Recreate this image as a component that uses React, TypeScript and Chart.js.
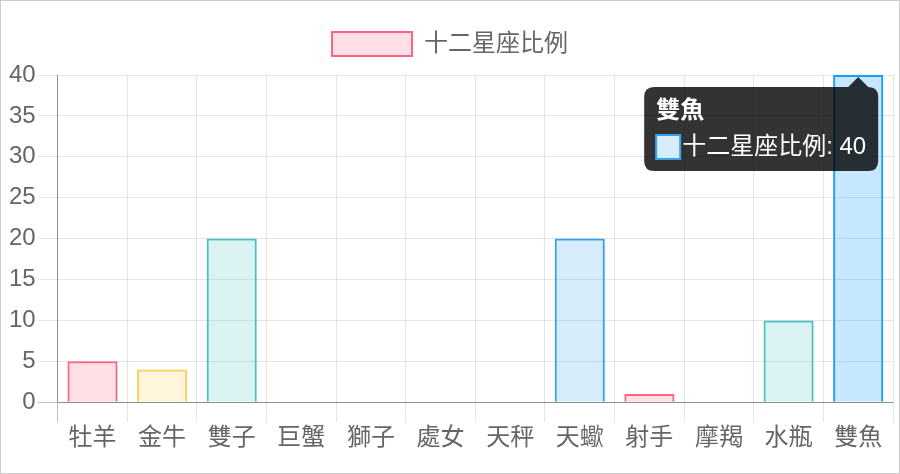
import React, { useEffect, useRef } from 'react';
import { Chart, ChartConfiguration, registerables } from 'chart.js';

Chart.register(...registerables);

// data
const signs = ['牡羊', '金牛', '雙子', '巨蟹', '獅子', '處女', '天秤', '天蠍', '射手', '摩羯', '水瓶', '雙魚'];
const ratios = [5, 4, 20, 0, 0, 0, 0, 20, 1, 0, 10, 40];
const datasetLabel = '十二星座比例';
const yTicks = [0, 5, 10, 15, 20, 25, 30, 35, 40];

// palette repeats every 4 bars
const fills = ['rgba(255, 99, 132, 0.2)', 'rgba(255, 206, 86, 0.2)', 'rgba(75, 192, 192, 0.2)', 'rgba(54, 162, 235, 0.2)'];
const borders = ['rgb(255, 99, 132)', 'rgb(255, 206, 86)', 'rgb(75, 192, 192)', 'rgb(54, 162, 235)'];
const hoverFills = ['rgba(255, 70, 110, 0.25)', 'rgba(255, 195, 50, 0.25)', 'rgba(50, 190, 190, 0.25)', 'rgba(30, 160, 255, 0.25)'];
const hoverBorders = ['rgb(255, 60, 100)', 'rgb(255, 190, 40)', 'rgb(40, 185, 185)', 'rgb(25, 155, 255)'];

const activeIndex = 11;

const FONT = "'Helvetica Neue', Helvetica, Arial, 'Noto Sans CJK TC', sans-serif";

// extra space under the legend
const legendGap = {
  id: 'legendGap',
  beforeInit(chart: any) {
    const legend = chart.legend;
    if (!legend) return;
    const fit = legend.fit;
    legend.fit = function () {
      fit.bind(legend)();
      this.height += 9;
    };
  }
};

const App: React.FC = () => {
  const canvasRef = useRef<HTMLCanvasElement>(null);
  const chartRef = useRef<Chart | null>(null);

  useEffect(() => {
    if (!canvasRef.current) return;
    if (chartRef.current) chartRef.current.destroy();

    const ctx = canvasRef.current.getContext('2d');
    if (!ctx) return;

    const pick = (arr: string[]) => ratios.map((_, i) => arr[i % arr.length]);

    const config: ChartConfiguration = {
      type: 'bar',
      data: {
        labels: signs,
        datasets: [{
          label: datasetLabel,
          data: ratios,
          backgroundColor: pick(fills),
          borderColor: pick(borders),
          hoverBackgroundColor: pick(hoverFills),
          hoverBorderColor: pick(hoverBorders),
          borderWidth: 2,
          hoverBorderWidth: 2
        }]
      },
      plugins: [legendGap],
      options: {
        responsive: true,
        maintainAspectRatio: false,
        animation: false,
        layout: { padding: { left: 6, right: 5, top: 21, bottom: 17 } },
        plugins: {
          legend: {
            labels: {
              boxWidth: 80,
              boxHeight: 24,
              padding: 10,
              color: '#666',
              font: { family: FONT, size: 24 }
            }
          },
          tooltip: {
            xAlign: 'right',
            yAlign: 'top',
            backgroundColor: 'rgba(0, 0, 0, 0.8)',
            titleFont: { family: FONT, size: 24, weight: 'bold', lineHeight: 1 },
            bodyFont: { family: FONT, size: 24, lineHeight: 1 },
            padding: 12,
            cornerRadius: 10,
            caretSize: 10,
            caretPadding: 2,
            titleMarginBottom: 12,
            boxPadding: 0
          }
        },
        scales: {
          x: {
            grid: {
              color: (c: any) => (c.index === 0 ? 'rgba(0,0,0,0.25)' : 'rgba(0,0,0,0.1)'),
              tickLength: 20
            },
            border: { color: 'rgba(0,0,0,0.25)' },
            ticks: { color: '#666', padding: 2, font: { family: FONT, size: 24 } }
          },
          y: {
            min: yTicks[0],
            max: yTicks[yTicks.length - 1],
            grid: {
              color: (c: any) => (c.tick && c.tick.value === 0 ? 'rgba(0,0,0,0.25)' : 'rgba(0,0,0,0.1)'),
              tickLength: 20
            },
            border: { color: 'rgba(0,0,0,0.25)' },
            afterBuildTicks: (scale: any) => {
              scale.ticks = yTicks.map((v) => ({ value: v }));
            },
            ticks: { color: '#666', padding: 2, font: { family: FONT, size: 24 } }
          }
        }
      }
    };

    const chart = new Chart(ctx, config);
    chartRef.current = chart;

    // show the hovered bar with its tooltip
    const el: any = chart.getDatasetMeta(0).data[activeIndex];
    const active = [{ datasetIndex: 0, index: activeIndex }];
    chart.setActiveElements(active);
    chart.tooltip?.setActiveElements(active, { x: el.x, y: el.y });
    chart.update();

    return () => {
      if (chartRef.current) {
        chartRef.current.destroy();
        chartRef.current = null;
      }
    };
  }, []);

  return (
    <div
      style={{
        position: 'absolute',
        left: 0,
        top: 0,
        width: 900,
        height: 474,
        boxSizing: 'border-box',
        border: '1px solid #cccccc',
        background: '#fff'
      }}
    >
      <div style={{ position: 'relative', width: 897, height: 471 }}>
        <canvas ref={canvasRef} aria-label="十二星座比例" />
      </div>
    </div>
  );
};

export default App;
